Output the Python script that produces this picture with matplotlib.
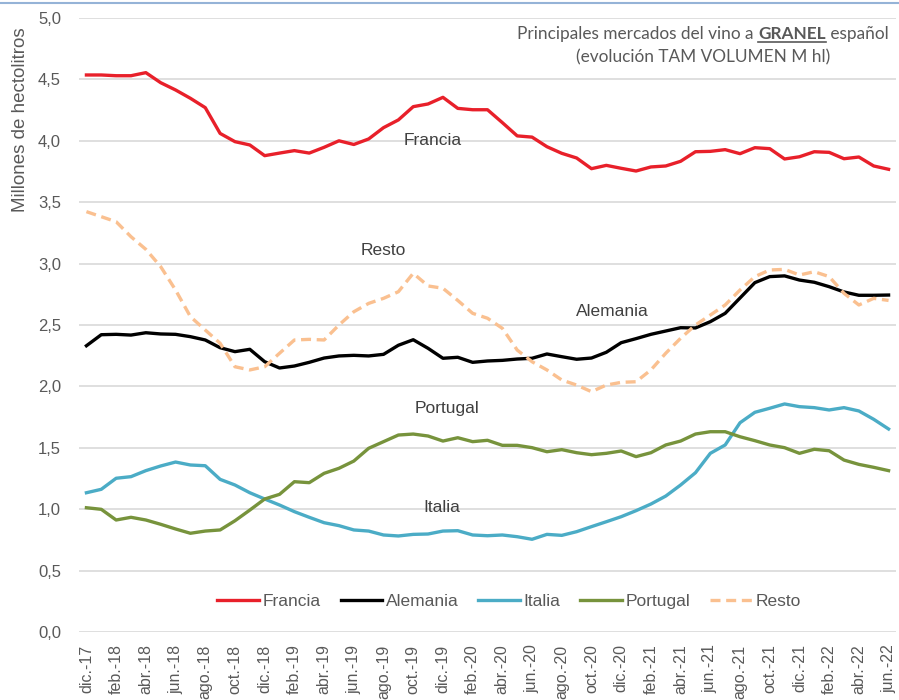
import numpy as np
import matplotlib.pyplot as plt
from matplotlib.lines import Line2D

plt.rcParams['font.family'] = ['Liberation Sans', 'DejaVu Sans']

# month labels, dic.-17 .. jun.-22
meses = ['ene.', 'feb.', 'mar.', 'abr.', 'may.', 'jun.',
         'jul.', 'ago.', 'sep.', 'oct.', 'nov.', 'dic.']
etiquetas = ['dic.-17'] + [f'{m}-{a}' for a in range(18, 23) for m in meses][:54]

francia = [4.536, 4.536, 4.53, 4.53, 4.555, 4.473, 4.414, 4.346, 4.27, 4.06,
           3.993, 3.966, 3.879, 3.90, 3.92, 3.90, 3.947, 4.00, 3.97, 4.015,
           4.107, 4.17, 4.278, 4.30, 4.354, 4.264, 4.253, 4.253, 4.148, 4.04,
           4.03, 3.952, 3.898, 3.86, 3.773, 3.80, 3.776, 3.754, 3.787, 3.795,
           3.833, 3.911, 3.914, 3.928, 3.895, 3.944, 3.936, 3.852, 3.87, 3.911,
           3.906, 3.854, 3.868, 3.795, 3.768]
alemania = [2.331, 2.421, 2.424, 2.418, 2.437, 2.427, 2.424, 2.405, 2.378, 2.315,
            2.283, 2.302, 2.201, 2.15, 2.166, 2.196, 2.231, 2.248, 2.253, 2.248,
            2.261, 2.335, 2.38, 2.31, 2.229, 2.237, 2.196, 2.207, 2.212, 2.223,
            2.229, 2.264, 2.242, 2.221, 2.231, 2.278, 2.356, 2.389, 2.424, 2.451,
            2.478, 2.476, 2.527, 2.595, 2.72, 2.845, 2.894, 2.90, 2.866, 2.848,
            2.812, 2.769, 2.742, 2.742, 2.744]
italia = [1.134, 1.162, 1.252, 1.265, 1.314, 1.352, 1.384, 1.36, 1.354, 1.243,
          1.197, 1.134, 1.083, 1.034, 0.98, 0.934, 0.89, 0.866, 0.831, 0.822,
          0.79, 0.782, 0.795, 0.798, 0.822, 0.825, 0.79, 0.784, 0.79, 0.776,
          0.755, 0.795, 0.787, 0.817, 0.858, 0.898, 0.939, 0.988, 1.042, 1.107,
          1.197, 1.297, 1.455, 1.523, 1.704, 1.789, 1.822, 1.857, 1.835, 1.827,
          1.808, 1.827, 1.80, 1.732, 1.653]
portugal = [1.012, 0.999, 0.912, 0.934, 0.912, 0.877, 0.839, 0.804, 0.822, 0.831,
            0.906, 0.993, 1.083, 1.121, 1.224, 1.216, 1.292, 1.333, 1.392, 1.496,
            1.55, 1.604, 1.612, 1.596, 1.555, 1.582, 1.55, 1.561, 1.52, 1.52,
            1.501, 1.468, 1.485, 1.46, 1.444, 1.455, 1.474, 1.428, 1.46, 1.523,
            1.555, 1.612, 1.631, 1.631, 1.59, 1.558, 1.523, 1.501, 1.455, 1.488,
            1.476, 1.40, 1.365, 1.341, 1.314]
resto = [3.423, 3.382, 3.341, 3.219, 3.116, 2.975, 2.785, 2.568, 2.459, 2.351,
         2.16, 2.134, 2.16, 2.27, 2.378, 2.383, 2.378, 2.50, 2.608, 2.676,
         2.717, 2.771, 2.921, 2.818, 2.799, 2.70, 2.595, 2.555, 2.473, 2.296,
         2.201, 2.134, 2.052, 2.011, 1.957, 2.011, 2.033, 2.038, 2.134, 2.27,
         2.392, 2.50, 2.581, 2.663, 2.785, 2.894, 2.948, 2.953, 2.907, 2.934,
         2.894, 2.758, 2.663, 2.717, 2.70]

gris = '#595959'
x = np.arange(len(francia))

fig = plt.figure(figsize=(8.99, 7.0), dpi=100)
ax = fig.add_axes([79/899, 1-632/700, (896-79)/899, (632-18)/700])

ax.plot(x, francia, color='#E8202A', lw=2.4, label='Francia')
ax.plot(x, alemania, color='black', lw=2.4, label='Alemania')
ax.plot(x, italia, color='#4BACC6', lw=2.4, label='Italia')
ax.plot(x, portugal, color='#77933C', lw=2.4, label='Portugal')
ax.plot(x, resto, color='#FAC090', lw=2.4, ls=(0, (3, 1.7)), label='Resto')

ax.set_xlim(-0.5, len(x) - 0.5)
ax.set_ylim(0, 5)
yt = np.arange(0, 5.01, 0.5)
ax.set_yticks(yt)
ax.set_yticklabels([f'{v:.1f}'.replace('.', ',') for v in yt], color=gris, fontsize=12)
ax.set_xticks(x[::2])
ax.set_xticklabels(etiquetas[::2], rotation=90, color=gris, fontsize=11.5)
ax.tick_params(axis='y', length=0, pad=13)
ax.tick_params(axis='x', length=0, pad=9)
ax.grid(axis='y', color='#D9D9D9', lw=1.2)
ax.set_axisbelow(True)
for s in ax.spines.values():
    s.set_visible(False)

fig.text(0.023, 1-120/700, 'Millones de hectolitros', rotation=90,
         ha='center', va='center', color=gris, fontsize=13.5)

# series labels inside the plot
for txt, xi, yi in [('Francia', 23.3, 4.0), ('Resto', 20.0, 3.11),
                    ('Alemania', 35.4, 2.606), ('Portugal', 24.3, 1.816),
                    ('Italia', 23.9, 1.01)]:
    ax.text(xi, yi, txt, ha='center', va='center', color='#404040', fontsize=12.5)

ax.legend(loc='center', bbox_to_anchor=(509/899, 1-601/700),
          bbox_transform=fig.transFigure, ncol=5, frameon=False,
          fontsize=12.5, handlelength=2.4, handletextpad=0.2, columnspacing=1.15,
          labelcolor=gris)

# title in two lines, with GRANEL bold + underlined
cx = 703/899
tf = ['Lato', 'DejaVu Sans']
t1 = fig.text(0, 1-34/700, 'Principales mercados del vino a ', color=gris, fontsize=13,
              va='center', family=tf)
t2 = fig.text(0, 1-34/700, 'GRANEL', color=gris, fontsize=13, va='center',
              fontweight='bold', family=tf)
t3 = fig.text(0, 1-34/700, ' español', color=gris, fontsize=13, va='center', family=tf)
t4 = fig.text(cx, 1-57/700, '(evolución TAM VOLUMEN M hl)', color=gris, fontsize=13,
              ha='center', va='center', family=tf)
r = fig.canvas.get_renderer()
ancho = sum(t.get_window_extent(r).width for t in (t1, t2, t3))
fs = 13 * 370 / ancho
for t in (t1, t2, t3, t4):
    t.set_fontsize(fs)
w = [t.get_window_extent(r).width / 899 for t in (t1, t2, t3)]
x0 = cx - sum(w) / 2
t1.set_x(x0)
t2.set_x(x0 + w[0])
t3.set_x(x0 + w[0] + w[1])
fig.add_artist(Line2D([x0 + w[0], x0 + w[0] + w[1]], [1-42/700, 1-42/700],
                      color=gris, lw=1.2))

# top border line
fig.add_artist(Line2D([0, 1], [1-3/700, 1-3/700], color='#95B3D7', lw=1.5))

fig.savefig('out.png', dpi=100)
